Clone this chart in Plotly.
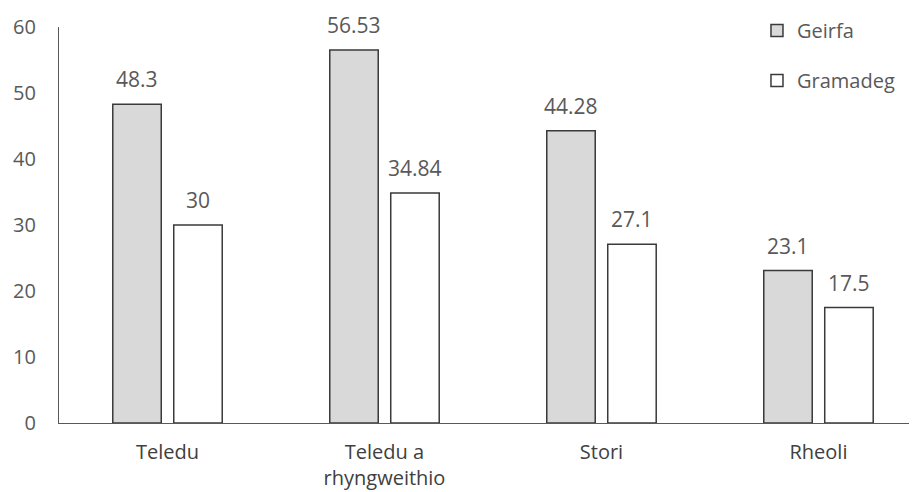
import plotly.graph_objects as go

categories = ["Teledu", "Teledu a<br>rhyngweithio", "Stori", "Rheoli"]
geirfa = [48.3, 56.53, 44.28, 23.1]
gramadeg = [30, 34.84, 27.1, 17.5]
geirfa_labels = ["48.3", "56.53", "44.28", "23.1"]
gramadeg_labels = ["30", "34.84", "27.1", "17.5"]
y_ticks = [0, 10, 20, 30, 40, 50, 60]

FONT = "Open Sans, Noto Sans, sans-serif"

fig = go.Figure()
fig.add_trace(go.Bar(
    x=categories, y=geirfa, name="Geirfa", legendgroup="a",
    marker=dict(color="#d9d9d9", line=dict(color="#3a3a3a", width=1.5)),
))
fig.add_trace(go.Bar(
    x=categories, y=gramadeg, name="Gramadeg", legendgroup="b",
    marker=dict(color="#ffffff", line=dict(color="#3a3a3a", width=1.5)),
))

for cat, v, lab in zip(categories, geirfa, geirfa_labels):
    fig.add_annotation(x=cat, y=v, text=lab, showarrow=False, xshift=-30.5, yshift=25,
                       font=dict(size=21, color="#595959", family=FONT))
for cat, v, lab in zip(categories, gramadeg, gramadeg_labels):
    fig.add_annotation(x=cat, y=v, text=lab, showarrow=False, xshift=30.5, yshift=25,
                       font=dict(size=21, color="#595959", family=FONT))

fig.update_layout(
    width=909, height=484,
    margin=dict(l=51, r=0, t=19, b=69, autoexpand=False),
    paper_bgcolor="white", plot_bgcolor="white",
    barmode="group", bargap=0.438, bargroupgap=0.205,
    font=dict(family=FONT, color="#595959"),
    showlegend=True,
    legend=dict(x=0.8135, y=0.994, yref="container", xanchor="left", yanchor="top",
                font=dict(size=20, color="#595959", family=FONT),
                tracegroupgap=21, bgcolor="rgba(0,0,0,0)", itemwidth=30),
    xaxis=dict(range=[-0.5, 3.454], showline=True, linecolor="#595959", linewidth=1.25,
               ticks="", tickfont=dict(size=20, color="#404040", family=FONT),
               showgrid=False, automargin=False, ticklabelstandoff=11),
    yaxis=dict(range=[0, 60], tickvals=y_ticks, showline=True, linecolor="#595959",
               linewidth=1.25, ticks="", showgrid=False, zeroline=False, automargin=False,
               tickfont=dict(size=20, color="#595959", family=FONT), ticklabelstandoff=18),
)

fig.write_html("out.html")
